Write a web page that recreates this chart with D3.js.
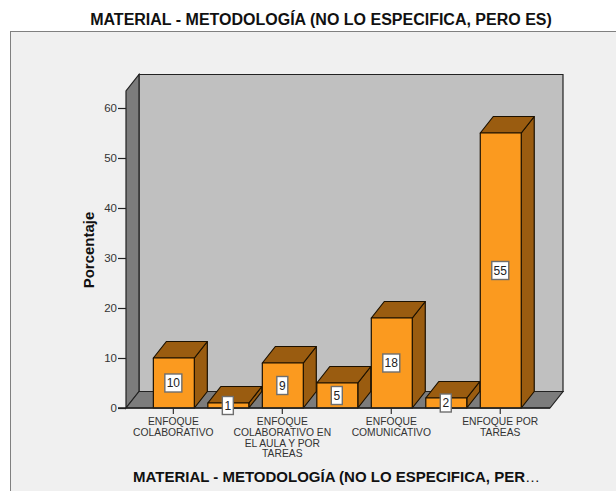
<!DOCTYPE html>
<html lang="en">
<head>
    <meta charset="UTF-8">
    <title>Material - Metodología</title>
    <script src="https://d3js.org/d3.v7.min.js"></script>
    <style>
        html, body { margin: 0; padding: 0; background: #fff; }
        svg { display: block; }
        text { font-family: "Liberation Sans", Arial, sans-serif; }
    </style>
</head>
<body>
    <div id="chart"></div>
    <script>
        const chartTitle = "MATERIAL - METODOLOGÍA (NO LO ESPECIFICA, PERO ES)";
        const xTitle = "MATERIAL - METODOLOGÍA (NO LO ESPECIFICA, PER";
        const yTitle = "Porcentaje";

        // the 2nd, 4th and 6th names are not printed in the picture
        const categories = [
            ["ENFOQUE", "COLABORATIVO"],
            [],
            ["ENFOQUE", "COLABORATIVO EN", "EL AULA Y POR", "TAREAS"],
            [],
            ["ENFOQUE", "COMUNICATIVO"],
            [],
            ["ENFOQUE POR", "TAREAS"]
        ];
        const values = [10, 1, 9, 5, 18, 2, 55];
        const yTicks = [0, 10, 20, 30, 40, 50, 60];

        const width = 616, height = 491;
        const depthX = 13, depthY = -16.5;   // 3D offset of the walls and bars
        const yMax = 63.4;

        const svg = d3.select("#chart").append("svg")
            .attr("width", width)
            .attr("height", height);

        const x = d3.scaleBand()
            .domain(d3.range(categories.length))
            .range([146.6, 528])
            .paddingInner(0.248)
            .paddingOuter(0.124);

        const y = d3.scaleLinear()
            .domain([0, 60])
            .range([408, 108]);

        const plotLeft = 126, plotRight = 550;
        const line = pts => "M" + pts.map(p => p.join(",")).join("L") + "Z";

        // outer panel
        svg.append("rect")
            .attr("x", 10.5).attr("y", 31.5)
            .attr("width", width).attr("height", height)
            .attr("fill", "#f0f0f0")
            .attr("stroke", "#808080");

        const wallStroke = "#222";

        // back wall
        svg.append("path")
            .attr("d", line([
                [plotLeft + depthX, y(0) + depthY],
                [plotRight + depthX, y(0) + depthY],
                [plotRight + depthX, y(yMax) + depthY],
                [plotLeft + depthX, y(yMax) + depthY]
            ]))
            .attr("fill", "#c0c0c0").attr("stroke", wallStroke).attr("stroke-width", 1.2);

        // left wall
        svg.append("path")
            .attr("d", line([
                [plotLeft, y(0)],
                [plotLeft + depthX, y(0) + depthY],
                [plotLeft + depthX, y(yMax) + depthY],
                [plotLeft, y(yMax)]
            ]))
            .attr("fill", "#7c7c7c").attr("stroke", wallStroke).attr("stroke-width", 1.2);

        // floor
        svg.append("path")
            .attr("d", line([
                [plotLeft, y(0)],
                [plotRight, y(0)],
                [plotRight + depthX, y(0) + depthY],
                [plotLeft + depthX, y(0) + depthY]
            ]))
            .attr("fill", "#7c7c7c").attr("stroke", wallStroke).attr("stroke-width", 1.2);

        // bars
        const bars = svg.append("g").selectAll("g")
            .data(values)
            .enter()
            .append("g")
            .attr("stroke", "#1c1100")
            .attr("stroke-width", 1.2)
            .attr("stroke-linejoin", "round");

        bars.append("path")  // right side
            .attr("fill", "#9a5c10")
            .attr("d", (d, i) => {
                const r = x(i) + x.bandwidth();
                return line([[r, y(0)], [r + depthX, y(0) + depthY], [r + depthX, y(d) + depthY], [r, y(d)]]);
            });

        bars.append("path")  // top
            .attr("fill", "#9a5c10")
            .attr("d", (d, i) => {
                const l = x(i), r = l + x.bandwidth();
                return line([[l, y(d)], [r, y(d)], [r + depthX, y(d) + depthY], [l + depthX, y(d) + depthY]]);
            });

        bars.append("rect")  // front
            .attr("fill", "#fb9a1f")
            .attr("x", (d, i) => x(i))
            .attr("y", d => y(d))
            .attr("width", x.bandwidth())
            .attr("height", d => y(0) - y(d));

        // axes
        const yAxis = svg.append("g")
            .attr("transform", `translate(${plotLeft},0)`)
            .call(d3.axisLeft(y).tickValues(yTicks).tickSize(8).tickPadding(1));
        yAxis.select(".domain").remove();
        yAxis.selectAll("line").attr("stroke", "#222").attr("stroke-width", 1.2);
        yAxis.selectAll("text").attr("font-size", 11.5).attr("fill", "#333")
            .attr("font-family", "'Liberation Sans', Arial, sans-serif");

        const xAxis = svg.append("g")
            .attr("transform", `translate(-0.5,${y(0)})`)
            .call(d3.axisBottom(x)
                .tickValues(d3.range(categories.length).filter(i => categories[i].length))
                .tickSize(6)
                .tickFormat(""));
        xAxis.select(".domain").remove();
        xAxis.selectAll("line").attr("stroke", "#333").attr("stroke-width", 1.2);
        xAxis.selectAll(".tick").each(function (d) {
            const t = d3.select(this).select("text")
                .attr("y", 0)
                .attr("dy", null)
                .attr("font-size", 10.3)
                .attr("fill", "#333")
                .attr("font-family", "'Liberation Sans', Arial, sans-serif");
            categories[d].forEach((s, k) => {
                t.append("tspan").attr("x", 0).attr("y", 17 + k * 10.8).text(s);
            });
        });

        svg.append("line")
            .attr("x1", plotLeft - 8).attr("x2", plotRight)
            .attr("y1", y(0)).attr("y2", y(0))
            .attr("stroke", "#222").attr("stroke-width", 1.4);

        // value labels
        const labels = svg.append("g").selectAll("g")
            .data(values)
            .enter()
            .append("g")
            .attr("transform", (d, i) => `translate(${x(i) + x.bandwidth() / 2 - 0.5},${y(d / 2)})`);

        labels.append("rect")
            .attr("x", d => d >= 10 ? -8.5 : -5.5)
            .attr("y", -9)
            .attr("width", d => d >= 10 ? 17 : 11)
            .attr("height", 18)
            .attr("fill", "#fff")
            .attr("stroke", "#6e6e6e")
            .attr("stroke-width", 1.4);

        labels.append("text")
            .attr("text-anchor", "middle")
            .attr("dy", "0.36em")
            .attr("font-size", 12)
            .attr("fill", "#222")
            .text(d => d);

        // titles
        svg.append("text")
            .attr("x", 321).attr("y", 25)
            .attr("text-anchor", "middle")
            .attr("font-size", 16)
            .attr("font-weight", "bold")
            .attr("fill", "#111")
            .text(chartTitle);

        const xTitleText = svg.append("text")
            .attr("x", 336.5).attr("y", 482)
            .attr("text-anchor", "middle")
            .attr("font-size", 15)
            .attr("font-weight", "bold")
            .attr("fill", "#111")
            .text(xTitle);
        xTitleText.append("tspan")
            .attr("font-weight", "normal")
            .text("…");

        svg.append("text")
            .attr("transform", "translate(94,250) rotate(-90)")
            .attr("text-anchor", "middle")
            .attr("font-size", 15)
            .attr("font-weight", "bold")
            .attr("fill", "#111")
            .text(yTitle);
    </script>
</body>
</html>
